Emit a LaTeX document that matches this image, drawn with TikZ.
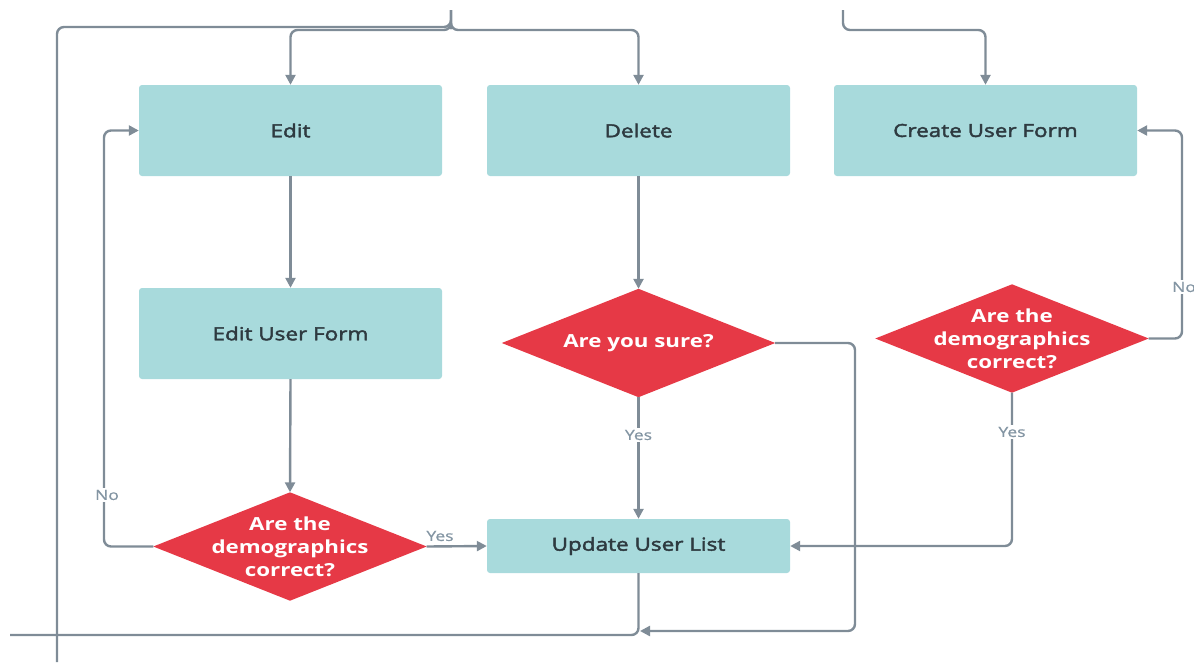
\documentclass[tikz,border=0pt]{standalone}
\usepackage{fontspec}
\setmainfont{Open Sans}
\newfontfamily\boxfont{Open Sans}[FakeBold=2.4, FakeStretch=1.25]
\newfontfamily\decfont{Open Sans Bold}[FakeStretch=1.24]
\newfontfamily\tagfont{Open Sans}[FakeBold=0.8, FakeStretch=1.25]
\usetikzlibrary{arrows.meta}
\definecolor{boxfill}{HTML}{A8DADC}
\definecolor{decfill}{HTML}{E63946}
\definecolor{wire}{HTML}{7F8C97}
\definecolor{ink}{HTML}{2E3A40}
\definecolor{tagink}{HTML}{8395A3}
\tikzset{
  procbox/.style={draw=none, fill=boxfill, rounded corners=3pt, minimum width=303pt, minimum height=91pt, text=ink, font=\boxfont\fontsize{18}{21}\selectfont},
  listbox/.style={procbox, minimum height=54pt},
  decframe/.style={rectangle, draw=none, inner sep=0pt, minimum width=273pt, minimum height=108pt},
  dectext/.style={text=white, align=center, inner sep=0pt, font=\decfont\fontsize{18}{23}\selectfont},
  wireline/.style={draw=wire, line width=2.4pt, rounded corners=7pt},
  flow/.style={wireline, -{Triangle[length=10pt,width=10pt]}},
  tag/.style={fill=white, text=tagink, inner sep=1.5pt, font=\tagfont\fontsize{14}{16}\selectfont}
}
\newcommand{\diamondfill}[1]{\fill[decfill] (#1.west) -- (#1.north) -- (#1.east) -- (#1.south) -- cycle;}
\begin{document}
\begin{tikzpicture}[x=1pt,y=-1pt]
\useasboundingbox (0,0) rectangle (1194,662);
\clip (0,0) rectangle (1194,662);

% process boxes
\node[procbox] (edit)   at (290.5,130.5) {Edit};
\node[procbox] (delete) at (638.5,130.5) {Delete};
\node[procbox] (create) at (985.5,130.5) {Create User Form};
\node[procbox] (editform) at (290.5,333.5) {Edit User Form};
\node[listbox] (update) at (638.5,546) {Update User List};

% decisions: a rhombus spanning each frame, text on top
\node[decframe] (sure)  at (638.5,343) {};
\node[decframe] (demoR) at (1012,338.5) {};
\node[decframe] (demoL) at (290,546.5) {};
\diamondfill{sure}
\diamondfill{demoR}
\diamondfill{demoL}
\node[dectext] (sureText)  at (sure)  {Are you sure?};
\node[dectext] (demoRText) at (demoR) {Are the\\demographics\\correct?};
\node[dectext] (demoLText) at (demoL) {Are the\\demographics\\correct?};

% free ends
\coordinate (srcA) at (451,10);
\coordinate (srcB) at (843,10);
\coordinate (railEnd) at (57,662);
\coordinate (outEnd) at (10,635);

% incoming branches at the top
\draw[wireline] (srcA) -- (451,20) |- (57,27) -- (railEnd);
\draw[flow] (srcA) -- (451,22) |- (290.5,30) -- (edit.north);
\draw[flow] (srcA) -- (451,22) |- (638.5,30) -- (delete.north);
\draw[flow] (srcB) |- (985.5,30) -- (create.north);

% edit branch
\draw[flow] (edit.south) -- (editform.north);
\draw[flow] (editform.south) -- (demoL.north);
\draw[flow] (demoL.west) -- (104,546.5) |- (edit.west);
\draw[flow] (demoL.east) -- (update.west);
\node[tag] (noL) at (107,495) {No};
\node[tag, fill=none] (yesL) at (440,536) {Yes};

% delete branch
\draw[flow] (delete.south) -- (sure.north);
\draw[flow] (sure.south) -- (update.north);
\node[tag] (yesS) at (638.5,435) {Yes};
\draw[flow] (sure.east) -| (855,631) -- (640,631);

% create branch
\draw[flow] (demoR.east) -| (1182,130.5) -- (create.east);
\node[tag] (noR) at (1184,287) {No};
\draw[flow] (demoR.south) |- (update.east);
\node[tag] (yesR) at (1012,432) {Yes};

% output line
\draw[wireline] (update.south) |- (outEnd);
\end{tikzpicture}
\end{document}
